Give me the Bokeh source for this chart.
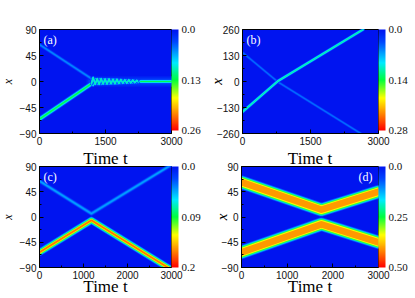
import numpy as np
from bokeh.plotting import figure
from bokeh.layouts import column, row
from bokeh.models import Range1d, LinearColorMapper, ColorBar, FixedTicker, Label, Title
from bokeh.embed import file_html
from bokeh.resources import INLINE

# ---------------- data ----------------
T_LIM = [0, 3000]

# panel (a)
A_X_LIM = [-90, 90]
A_X_TICKS = [-90, -45, 0, 45, 90]
A_T_TICKS = [0, 1500, 3000]
A_CB_MAX = 0.26
A_CB_LABELS = ["0.0", "0.13", "0.26"]
A_WEAK_T = [0, 1180]
A_WEAK_X = [64, 5]
A_WEAK_PEAK = 0.06
A_STRONG_T = [0, 1180]
A_STRONG_X = [-65, -4]
A_STRONG_PEAK = 0.14
A_HALO_T = [1180, 3000]
A_HALO_X = [0, 0]
A_HALO_PEAK = 0.04
A_OSC_T = [1180, 1220, 1265, 1310, 1355, 1400, 1445, 1490, 1535, 1580, 1625, 1670, 1715,
           1760, 1805, 1850, 1895, 1940, 1985, 2030, 2075, 2120, 2165, 2210, 2255, 2300]
A_OSC_X1 = [-4, 7, -5, 5, -5, 5, -4.5, 4.5, -4.5, 4.5, -4, 4, -4,
            4, -3.5, 3.5, -3, 3, -3, 3, -2.5, 2.5, -2, 2, -1.5, 0]
A_OSC_X2 = [5, -7, 5, -5, 5, -5, 4.5, -4.5, 4.5, -4.5, 4, -4, 4,
            -4, 3.5, -3.5, 3, -3, 3, -3, 2.5, -2.5, 2, -2, 1.5, 0]
A_OSC_PEAK = 0.12
A_TAIL_T = [2300, 3000]
A_TAIL_X = [0, 0]
A_TAIL_PEAK = 0.14

# panel (b)
B_X_LIM = [-260, 260]
B_X_TICKS = [-260, -130, 0, 130, 260]
B_T_TICKS = [0, 1500, 3000]
B_CB_MAX = 0.28
B_CB_LABELS = ["0.0", "0.14", "0.28"]
B_WEAK_T = [0, 780, 2610]
B_WEAK_X = [145, -2, -260]
B_WEAK_PEAK = 0.055
B_STRONG_T = [0, 780, 2660]
B_STRONG_X = [-152, 2, 260]
B_STRONG_PEAK = 0.13

# panel (c)
C_X_LIM = [-90, 90]
C_X_TICKS = [-90, -45, 0, 45, 90]
C_T_TICKS = [0, 1000, 2000, 3000]
C_CB_MAX = 0.19
C_CB_LABELS = ["0.0", "0.09", "0.2"]
C_WEAK_T = [0, 1180, 3000]
C_WEAK_X = [64, 6, 93]
C_WEAK_PEAK = 0.05
C_STRONG_T = [0, 1180, 3000]
C_STRONG_X = [-63, -6, -94]
C_STRONG_PEAK = 0.18

# panel (d)
D_X_LIM = [-90, 90]
D_X_TICKS = [-90, -45, 0, 45, 90]
D_T_TICKS = [0, 1000, 2000, 3000]
D_CB_MAX = 0.50
D_CB_LABELS = ["0.0", "0.25", "0.50"]
D_UPPER_T = [0, 1750, 3000]
D_UPPER_X = [62, 13, 45]
D_LOWER_T = [0, 1750, 3000]
D_LOWER_X = [-63, -13, -45]
D_PEAK = 0.45

# ---------------- styling ----------------
BG = "#0014f0"
SERIF = "Liberation Serif"
SANS = "Liberation Sans"
STOPS = [(0.0, (0, 20, 240)), (0.12, (0, 70, 255)), (0.33, (0, 235, 255)),
         (0.5, (0, 255, 60)), (0.68, (255, 255, 0)), (0.84, (255, 130, 0)),
         (1.0, (255, 0, 0))]
LEVELS = [0.15, 0.3, 0.45, 0.6, 0.75, 0.9]


def color_at(frac):
    frac = min(max(frac, 0.0), 1.0)
    for (f0, c0), (f1, c1) in zip(STOPS[:-1], STOPS[1:]):
        if frac <= f1:
            u = (frac - f0) / (f1 - f0)
            c = [int(round(a + (b - a) * u)) for a, b in zip(c0, c1)]
            return "#%02x%02x%02x" % tuple(c)
    return "#ff0000"


PALETTE = [color_at(i / 255) for i in range(256)]


def soliton(p, ts, xs, peak, vmax, sigma, n=2.0):
    for f in LEVELS:
        w = 2 * sigma * (-np.log(f)) ** (1.0 / n)
        p.line(ts, xs, line_width=w, line_color=color_at(f * peak / vmax),
               line_join="round", line_cap="round")


def make_fig(width, height, mbl, mbr, mbt, mbb, xlim, xticks, tticks, vmax, cb_labels,
             tag, ylab_standoff, tag_right=False, ylab_title=False):
    p = figure(width=width, height=height, x_range=Range1d(*T_LIM), y_range=Range1d(*xlim),
               output_backend="svg", toolbar_location=None,
               min_border_left=mbl, min_border_right=mbr, min_border_top=mbt, min_border_bottom=mbb)
    p.background_fill_color = BG
    p.border_fill_color = "white"
    p.outline_line_color = "black"
    p.outline_line_width = 1
    p.grid.visible = False
    p.xaxis.ticker = FixedTicker(ticks=tticks, minor_ticks=[(a + b) / 2 for a, b in zip(tticks[:-1], tticks[1:])])
    p.yaxis.ticker = FixedTicker(ticks=xticks, minor_ticks=[(a + b) / 2 for a, b in zip(xticks[:-1], xticks[1:])])
    for ax in (p.xaxis[0], p.yaxis[0]):
        ax.major_tick_in = 4
        ax.major_tick_out = 0
        ax.minor_tick_in = 2
        ax.minor_tick_out = 0
        ax.axis_line_color = "black"
        ax.major_tick_line_color = "black"
        ax.minor_tick_line_color = "black"
        ax.major_label_text_font = SANS
        ax.major_label_text_font_size = "10px"
        ax.major_label_text_color = "#111111"
        ax.axis_label_text_font = SERIF
        ax.axis_label_text_color = "black"
    p.xaxis.major_label_standoff = 3
    p.yaxis.major_label_standoff = 3
    if ylab_title:
        p.add_layout(Title(text="x", align="center", vertical_align="top", text_font=SERIF,
                           text_font_style="italic", text_font_size="12px", standoff=0,
                           text_color="black"), "left")
    else:
        p.yaxis.axis_label = "x"
        p.yaxis.axis_label_text_font_style = "italic"
        p.yaxis.axis_label_text_font_size = "15px"
        p.yaxis.axis_label_standoff = ylab_standoff

    mapper = LinearColorMapper(palette=PALETTE[::-1], low=-vmax, high=0)
    ticks = [-vmax, -vmax / 2, 0]
    cb = ColorBar(color_mapper=mapper, ticker=FixedTicker(ticks=ticks),
                  major_label_overrides={ticks[0]: cb_labels[2], ticks[1]: cb_labels[1], ticks[2]: cb_labels[0]},
                  width=7, height=101, padding=0, margin=2, location="top_left",
                  label_standoff=3, major_tick_line_color=None, minor_tick_line_color=None,
                  bar_line_color=None, border_line_color=None, background_fill_alpha=0,
                  major_label_text_font=SERIF, major_label_text_font_size="11px",
                  major_label_text_color="#111111")
    p.add_layout(cb, "right")

    if tag_right:
        p.add_layout(Label(x=T_LIM[1], y=xlim[1], x_offset=-6, y_offset=-3, text=tag,
                           text_align="right", text_baseline="top", text_color="white",
                           text_font=SERIF, text_font_size="12px"))
    else:
        p.add_layout(Label(x=T_LIM[0], y=xlim[1], x_offset=4, y_offset=-3, text=tag,
                           text_align="left", text_baseline="top", text_color="white",
                           text_font=SERIF, text_font_size="12px"))
    return p


def bottom_time_label(p):
    p.xaxis.axis_label = "Time t"
    p.xaxis.axis_label_text_font_style = "normal"
    p.xaxis.axis_label_text_font_size = "17px"
    p.xaxis.axis_label_standoff = -5


def top_time_title(p):
    # the x-axis title of the panel above, drawn in this figure's top border
    p.add_layout(Title(text="Time t", align="center", text_font=SERIF, text_font_size="17px",
                       text_font_style="normal", text_color="black", standoff=-3, offset=0),
                 "above")


# ---- panel (a)
pa = make_fig(205, 148, 35, 34, 29, 15, A_X_LIM, A_X_TICKS, A_T_TICKS, A_CB_MAX, A_CB_LABELS, "(a)", 0,
              ylab_title=True)
soliton(pa, A_HALO_T, A_HALO_X, A_HALO_PEAK, A_CB_MAX, 4.0)
soliton(pa, A_WEAK_T, A_WEAK_X, A_WEAK_PEAK, A_CB_MAX, 1.4)
soliton(pa, A_STRONG_T, A_STRONG_X, A_STRONG_PEAK, A_CB_MAX, 1.9)
soliton(pa, A_OSC_T, A_OSC_X2, A_OSC_PEAK * 0.8, A_CB_MAX, 1.0)
soliton(pa, A_OSC_T, A_OSC_X1, A_OSC_PEAK, A_CB_MAX, 1.0)
soliton(pa, A_TAIL_T, A_TAIL_X, A_TAIL_PEAK, A_CB_MAX, 1.6)

# ---- panel (b)
pb = make_fig(210, 148, 36, 37, 29, 15, B_X_LIM, B_X_TICKS, B_T_TICKS, B_CB_MAX, B_CB_LABELS, "(b)", -11)
soliton(pb, B_WEAK_T, B_WEAK_X, B_WEAK_PEAK, B_CB_MAX, 1.1)
soliton(pb, B_STRONG_T, B_STRONG_X, B_STRONG_PEAK, B_CB_MAX, 1.3)

# ---- panel (c)
pc = make_fig(205, 150, 35, 34, 16, 30, C_X_LIM, C_X_TICKS, C_T_TICKS, C_CB_MAX, C_CB_LABELS, "(c)", 0,
              ylab_title=True)
soliton(pc, C_WEAK_T, C_WEAK_X, C_WEAK_PEAK, C_CB_MAX, 1.7)
soliton(pc, C_STRONG_T, C_STRONG_X, C_STRONG_PEAK, C_CB_MAX, 2.7)

# ---- panel (d)
pd = make_fig(210, 150, 36, 37, 16, 30, D_X_LIM, D_X_TICKS, D_T_TICKS, D_CB_MAX, D_CB_LABELS, "(d)", -11,
              tag_right=True)
soliton(pd, D_UPPER_T, D_UPPER_X, D_PEAK, D_CB_MAX, 5.8, n=4)
soliton(pd, D_LOWER_T, D_LOWER_X, D_PEAK, D_CB_MAX, 5.8, n=4)

for p in (pc, pd):
    top_time_title(p)
    bottom_time_label(p)

layout = column(row(pa, pb), row(pc, pd))
open("out.html", "w").write(file_html(layout, INLINE))
